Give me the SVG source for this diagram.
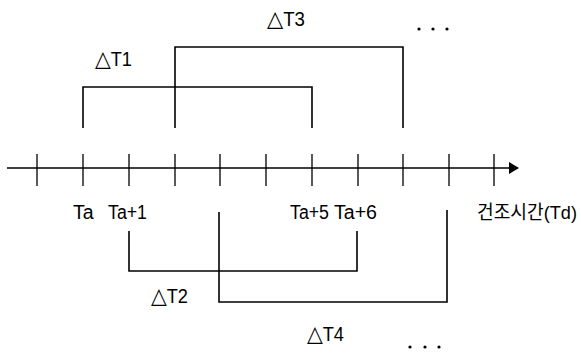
<svg xmlns="http://www.w3.org/2000/svg" width="581" height="354" viewBox="0 0 581 354">
<style>
.ln{fill:none;stroke:#000;stroke-width:1.3}
.br{fill:none;stroke:#000;stroke-width:1.6}
.t{font-family:"Liberation Sans","DejaVu Sans",Arial,sans-serif;font-size:19.5px;fill:#000}
.tri{font-family:"DejaVu Sans",sans-serif;font-size:22px}
.k{font-family:"Liberation Sans","Noto Sans CJK KR",sans-serif;font-size:19px;fill:#000}
.d{fill:#000}
</style>
<defs>
<marker id="arr" viewBox="0 0 10 12" refX="9" refY="6" markerWidth="10" markerHeight="12" markerUnits="userSpaceOnUse" orient="auto">
<path d="M0,0 L10,6 L0,12 Z" fill="#000"/>
</marker>
</defs>
<g id="axis">
<line class="ln" x1="7" y1="168" x2="518" y2="168" marker-end="url(#arr)"/>
<path class="ln" d="M37,154V186M83,154V186M129,154V186M175,154V186M220,154V186M266,154V186M312,154V186M358,154V186M403,154V186M449,154V186M494,154V186"/>
</g>
<g id="connectors">
<path id="bT1" class="br" d="M83,128V87H312V128"/>
<path id="bT3" class="br" d="M175,128V47H403V128"/>
<path id="bT2" class="br" d="M129,231V271H357V231"/>
<path id="bT4" class="br" d="M219,212V302H447V210"/>
</g>
<g id="labels">
<text class="t" x="73" y="219">Ta</text>
<text class="t" x="108" y="219" textLength="39" lengthAdjust="spacingAndGlyphs">Ta+1</text>
<text class="t" x="290" y="219" textLength="39" lengthAdjust="spacingAndGlyphs">Ta+5</text>
<text class="t" x="334" y="219" textLength="43" lengthAdjust="spacingAndGlyphs">Ta+6</text>
<text class="k" x="477" y="219" textLength="100" lengthAdjust="spacingAndGlyphs">건조시간(Td)</text>
<text class="t" x="95" y="66" textLength="37" lengthAdjust="spacingAndGlyphs"><tspan class="tri">△</tspan>T1</text>
<text class="t" x="267" y="26" textLength="38" lengthAdjust="spacingAndGlyphs"><tspan class="tri">△</tspan>T3</text>
<text class="t" x="151" y="303" textLength="37" lengthAdjust="spacingAndGlyphs"><tspan class="tri">△</tspan>T2</text>
<text class="t" x="307" y="341" textLength="37" lengthAdjust="spacingAndGlyphs"><tspan class="tri">△</tspan>T4</text>
</g>
<g id="dots">
<circle class="d" cx="419" cy="29" r="1.6"/>
<circle class="d" cx="433" cy="29" r="1.6"/>
<circle class="d" cx="447" cy="29" r="1.6"/>
<circle class="d" cx="410" cy="347" r="1.6"/>
<circle class="d" cx="425" cy="347" r="1.6"/>
<circle class="d" cx="439" cy="347" r="1.6"/>
</g>
</svg>
